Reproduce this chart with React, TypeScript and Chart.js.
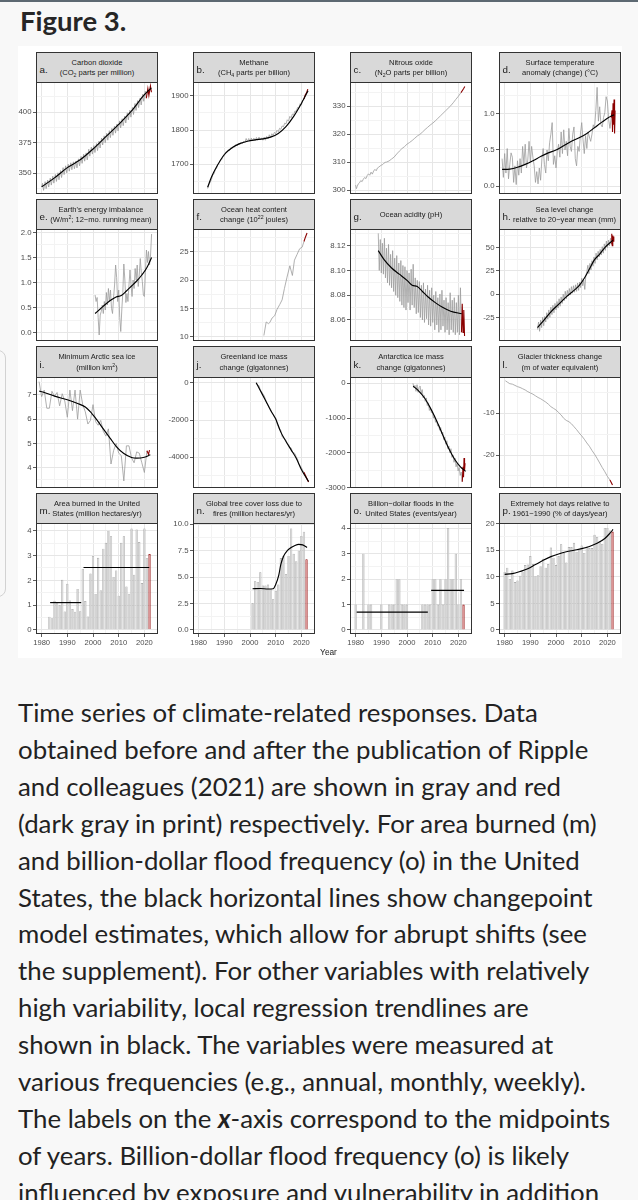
import React, { useEffect, useRef } from "react";
import { Chart, registerables } from "chart.js";

Chart.register(...registerables);

type Pt = [number, number];

// ---------------- shared x axis ----------------
const yearMin = 1977.8;
const yearMax = 2025.3;
const yearTicks = [1980, 1990, 2000, 2010, 2020];

// ---------------- a. Carbon dioxide ----------------
const co2Range = [332.8, 424.6];
const co2Ticks = [350, 375, 400];
const co2Before: Pt[] = [
  [1980.0, 338.6], [1980.35, 341.5], [1980.75, 335.8], [1981.35, 342.9], [1981.75, 337.2], [1982.35, 344.2], [1982.75, 338.5],
  [1983.35, 345.8], [1983.75, 340.1], [1984.35, 347.4], [1984.75, 341.7], [1985.35, 348.8], [1985.75, 343.1], [1986.35, 350.2],
  [1986.75, 344.5], [1987.35, 352.0], [1987.75, 346.3], [1988.35, 354.4], [1988.75, 348.7], [1989.35, 355.9], [1989.75, 350.2],
  [1990.35, 357.2], [1990.75, 351.5], [1991.35, 358.4], [1991.75, 352.7], [1992.35, 359.2], [1992.75, 353.5], [1993.35, 359.9],
  [1993.75, 354.2], [1994.35, 361.6], [1994.75, 355.9], [1995.35, 363.6], [1995.75, 357.9], [1996.35, 365.4], [1996.75, 359.7],
  [1997.35, 366.5], [1997.75, 360.8], [1998.35, 369.5], [1998.75, 363.8], [1999.35, 371.2], [1999.75, 365.5], [2000.35, 372.5],
  [2000.75, 366.8], [2001.35, 374.1], [2001.75, 368.4], [2002.35, 376.2], [2002.75, 370.5], [2003.35, 378.7], [2003.75, 373.0],
  [2004.35, 380.5], [2004.75, 374.8], [2005.35, 382.6], [2005.75, 376.9], [2006.35, 384.7], [2006.75, 379.0], [2007.35, 386.6],
  [2007.75, 380.9], [2008.35, 388.4], [2008.75, 382.7], [2009.35, 390.2], [2009.75, 384.5], [2010.35, 392.7], [2010.75, 387.0],
  [2011.35, 394.5], [2011.75, 388.8], [2012.35, 396.7], [2012.75, 391.0], [2013.35, 399.3], [2013.75, 393.6], [2014.35, 401.5],
  [2014.75, 395.8], [2015.35, 403.7], [2015.75, 398.0], [2016.35, 407.0], [2016.75, 401.3], [2017.35, 409.3], [2017.75, 403.6],
  [2018.35, 411.5], [2018.75, 405.8], [2019.35, 414.5], [2019.75, 408.8], [2020.35, 417.0], [2020.75, 411.3],
];
const co2After: Pt[] = [[2020.75, 411.3], [2021.35, 419.3], [2021.75, 413.6], [2022.35, 421.4], [2022.75, 416.2]];
const co2Trend: Pt[] = [
  [1980, 338.7], [1985, 346.0], [1990, 354.4], [1995, 360.8], [2000, 369.7], [2005, 379.8], [2010, 389.9], [2015, 400.9],
  [2020, 414.2], [2022.7, 419.8],
];

// ---------------- b. Methane ----------------
const ch4Range = [1612, 1941];
const ch4Ticks = [1700, 1800, 1900];
const ch4Before: Pt[] = [
  [1983.5, 1628], [1984.0, 1640], [1984.5, 1646], [1985.0, 1655], [1985.5, 1668], [1986.0, 1672], [1986.5, 1684], [1987.0, 1688],
  [1987.5, 1700], [1988.0, 1702], [1988.5, 1712], [1989.0, 1713], [1989.5, 1722], [1990.0, 1724], [1990.5, 1735], [1991.0, 1734],
  [1991.5, 1742], [1992.0, 1740], [1992.5, 1748], [1993.0, 1745], [1993.5, 1752], [1994.0, 1750], [1994.5, 1757], [1995.0, 1753],
  [1995.5, 1761], [1996.0, 1757], [1996.5, 1764], [1997.0, 1760], [1997.5, 1767], [1998.0, 1763], [1998.5, 1775], [1999.0, 1766],
  [1999.5, 1775], [2000.0, 1767], [2000.5, 1776], [2001.0, 1768], [2001.5, 1776], [2002.0, 1769], [2002.5, 1778], [2003.0, 1770],
  [2003.5, 1779], [2004.0, 1771], [2004.5, 1777], [2005.0, 1770], [2005.5, 1779], [2006.0, 1770], [2006.5, 1781], [2007.0, 1774],
  [2007.5, 1786], [2008.0, 1778], [2008.5, 1789], [2009.0, 1784], [2009.5, 1793], [2010.0, 1789], [2010.5, 1799], [2011.0, 1795],
  [2011.5, 1805], [2012.0, 1802], [2012.5, 1812], [2013.0, 1809], [2013.5, 1820], [2014.0, 1818], [2014.5, 1830], [2015.0, 1826],
  [2015.5, 1840], [2016.0, 1836], [2016.5, 1847], [2017.0, 1845], [2017.5, 1856], [2018.0, 1854], [2018.5, 1866], [2019.0, 1864],
  [2019.5, 1877], [2020.0, 1873], [2020.5, 1887], [2021.0, 1891],
];
const ch4After: Pt[] = [[2021.0, 1891], [2021.5, 1903], [2022.0, 1909], [2022.5, 1920]];
const ch4Trend: Pt[] = [
  [1983.5, 1632], [1985, 1662], [1987, 1692], [1990, 1728], [1993, 1748], [1996, 1760], [1999, 1767], [2002, 1771], [2005, 1774],
  [2008, 1779], [2011, 1790], [2014, 1810], [2017, 1840], [2020, 1878], [2022.6, 1915],
];

// ---------------- c. Nitrous oxide ----------------
const n2oRange = [298.6, 338.6];
const n2oTicks = [300, 310, 320, 330];
const n2oBefore: Pt[] = [
  [1980.0, 301.8], [1980.3, 300.5], [1980.6, 301.3], [1981.0, 302.2], [1981.5, 302.6], [1982.0, 303.4], [1982.5, 303.0],
  [1983.0, 303.9], [1983.5, 304.5], [1984.0, 304.1], [1984.5, 305.2], [1985.0, 305.8], [1985.5, 305.3], [1986.0, 306.4],
  [1986.5, 305.7], [1987.0, 306.8], [1987.5, 307.4], [1988.0, 306.9], [1988.5, 307.9], [1989.0, 308.2], [1989.5, 308.6],
  [1990.0, 308.9], [1990.5, 309.1], [1991.0, 309.6], [1991.5, 309.9], [1992.0, 310.0], [1993.0, 310.4], [1994.0, 311.1],
  [1995.0, 311.8], [1996.0, 312.9], [1997.0, 313.9], [1998.0, 314.8], [1999.0, 315.5], [2000.0, 316.4], [2001.0, 317.0],
  [2002.0, 317.7], [2003.0, 318.5], [2004.0, 319.3], [2005.0, 319.9], [2006.0, 320.7], [2007.0, 321.6], [2008.0, 322.4],
  [2009.0, 323.2], [2010.0, 323.9], [2011.0, 324.7], [2012.0, 325.6], [2013.0, 326.5], [2014.0, 327.4], [2015.0, 328.3],
  [2016.0, 329.2], [2017.0, 330.1], [2018.0, 331.2], [2019.0, 332.4], [2020.0, 333.5], [2021.0, 334.8],
];
const n2oAfter: Pt[] = [[2021.0, 334.8], [2021.5, 335.5], [2022.0, 336.2], [2022.5, 337.0]];

// ---------------- d. Surface temperature ----------------
const tempRange = [-0.111, 1.444];
const tempTicks = [0, 0.5, 1.0];
const tempBefore: Pt[] = [
  [1979.0, 0.38], [1979.5, 0.12], [1980.0, 0.45], [1980.5, 0.18], [1981.0, 0.52], [1981.5, 0.10], [1982.0, 0.30], [1982.5, 0.46],
  [1983.0, 0.40], [1983.5, 0.05], [1984.0, 0.28], [1984.5, 0.02], [1985.0, 0.35], [1985.5, 0.15], [1986.0, 0.38], [1986.5, 0.18],
  [1987.0, 0.55], [1987.5, 0.30], [1988.0, 0.58], [1988.5, 0.25], [1989.0, 0.36], [1989.5, 0.62], [1990.0, 0.33], [1990.5, 0.55],
  [1991.0, 0.40], [1991.5, 0.28], [1992.0, 0.05], [1992.5, 0.20], [1993.0, 0.03], [1993.5, 0.25], [1994.0, 0.08], [1994.5, 0.38],
  [1995.0, 0.52], [1995.5, 0.30], [1996.0, 0.18], [1996.5, 0.50], [1997.0, 0.35], [1997.5, 0.60], [1998.0, 0.72], [1998.5, 0.88],
  [1999.0, 0.30], [1999.5, 0.42], [2000.0, 0.25], [2000.5, 0.48], [2001.0, 0.58], [2001.5, 0.40], [2002.0, 0.75], [2002.5, 0.45],
  [2003.0, 0.78], [2003.5, 0.50], [2004.0, 0.62], [2004.5, 0.42], [2005.0, 0.80], [2005.5, 0.55], [2006.0, 0.48], [2006.5, 0.72],
  [2007.0, 0.82], [2007.5, 0.38], [2008.0, 0.28], [2008.5, 0.55], [2009.0, 0.48], [2009.5, 0.72], [2010.0, 0.88], [2010.5, 0.65],
  [2011.0, 0.45], [2011.5, 0.70], [2012.0, 0.52], [2012.5, 0.75], [2013.0, 0.68], [2013.5, 0.62], [2014.0, 0.72], [2014.5, 0.85],
  [2015.0, 0.80], [2015.5, 1.05], [2016.0, 1.37], [2016.5, 0.90], [2017.0, 1.10], [2017.5, 0.85], [2018.0, 0.82], [2018.5, 0.95],
  [2019.0, 1.02], [2019.5, 1.24], [2020.0, 1.18], [2020.5, 0.92], [2021.0, 0.80], [2021.5, 0.95],
];
const tempAfter: Pt[] = [
  [2021.5, 0.95], [2021.8, 1.05], [2022.0, 0.75], [2022.2, 1.15], [2022.4, 0.85], [2022.6, 1.20], [2022.8, 0.73], [2023.0, 1.05],
];
const tempTrend: Pt[] = [
  [1979, 0.23], [1982, 0.235], [1985, 0.26], [1988, 0.30], [1991, 0.35], [1994, 0.41], [1997, 0.46], [2000, 0.50], [2003, 0.56],
  [2006, 0.62], [2009, 0.67], [2012, 0.73], [2015, 0.81], [2018, 0.89], [2020, 0.94], [2022.6, 0.99],
];

// ---------------- e. Earth's energy imbalance ----------------
const eeiRange = [-0.17, 2.07];
const eeiTicks = [0, 0.5, 1.0, 1.5, 2.0];
const eeiBefore: Pt[] = [
  [2000.8, 0.75], [2001.2, 0.62], [2001.6, 0.70], [2002.0, 0.30], [2002.4, -0.05], [2002.8, 0.35], [2003.2, 0.42], [2003.6, 0.55],
  [2004.0, 0.38], [2004.4, 0.62], [2004.8, 0.45], [2005.2, 0.80], [2005.6, 0.55], [2006.0, 0.88], [2006.4, 0.62], [2006.8, 0.85],
  [2007.2, 0.48], [2007.6, 0.38], [2008.0, 0.70], [2008.4, 0.95], [2008.8, 1.35], [2009.2, 1.10], [2009.6, 0.62], [2010.0, 0.85],
  [2010.4, 0.30], [2010.8, 0.02], [2011.2, 0.45], [2011.6, 0.80], [2012.0, 1.37], [2012.4, 1.05], [2012.8, 0.60], [2013.2, 0.78],
  [2013.6, 0.62], [2014.0, 0.95], [2014.4, 1.25], [2014.8, 0.95], [2015.2, 0.72], [2015.6, 1.05], [2016.0, 0.88], [2016.4, 1.28],
  [2016.8, 1.05], [2017.2, 1.35], [2017.6, 0.92], [2018.0, 1.15], [2018.4, 1.48], [2018.8, 1.20], [2019.2, 1.02], [2019.6, 0.75],
  [2020.0, 0.72], [2020.4, 1.20], [2020.8, 1.65], [2021.2, 1.40], [2021.6, 1.62], [2022.0, 1.35], [2022.4, 1.55], [2022.8, 1.97],
];
const eeiTrend: Pt[] = [
  [2000.8, 0.38], [2003, 0.48], [2005, 0.57], [2007, 0.65], [2009, 0.71], [2011, 0.74], [2013, 0.83], [2015, 0.93], [2017, 1.03],
  [2019, 1.15], [2021, 1.30], [2022.8, 1.50],
];

// ---------------- f. Ocean heat content ----------------
const ohcRange = [9.24, 29.0];
const ohcTicks = [10, 15, 20, 25];
const ohcBefore: Pt[] = [
  [2005.4, 10.2], [2006.3, 12.6], [2007.2, 12.3], [2007.7, 12.5], [2008.6, 13.3], [2009.6, 13.7], [2010.5, 14.8], [2011.6, 15.7],
  [2012.5, 16.5], [2013.4, 18.5], [2014.4, 20.5], [2015.5, 22.5], [2016.5, 20.8], [2017.3, 23.5], [2018.3, 24.5], [2019.3, 25.5],
  [2020.3, 25.8], [2021.0, 26.8],
];
const ohcAfter: Pt[] = [[2021.0, 26.8], [2021.6, 27.6], [2022.2, 28.3]];

// ---------------- g. Ocean acidity ----------------
const phRange = [8.043, 8.1335];
const phTicks = [8.06, 8.08, 8.10, 8.12];
const phBefore: Pt[] = [
  [1988.8, 8.130], [1989.2, 8.100], [1989.6, 8.125], [1990.0, 8.098], [1990.4, 8.122], [1990.8, 8.097], [1991.2, 8.126],
  [1991.6, 8.094], [1992.0, 8.118], [1992.4, 8.090], [1992.8, 8.121], [1993.2, 8.088], [1993.6, 8.113], [1994.0, 8.086],
  [1994.4, 8.116], [1994.8, 8.083], [1995.2, 8.110], [1995.6, 8.080], [1996.0, 8.112], [1996.4, 8.078], [1996.8, 8.106],
  [1997.2, 8.075], [1997.6, 8.108], [1998.0, 8.072], [1998.4, 8.104], [1998.8, 8.070], [1999.2, 8.103], [1999.6, 8.068],
  [2000.0, 8.100], [2000.4, 8.074], [2000.8, 8.098], [2001.2, 8.068], [2001.6, 8.101], [2002.0, 8.072], [2002.4, 8.105],
  [2002.8, 8.070], [2003.2, 8.094], [2003.6, 8.065], [2004.0, 8.092], [2004.4, 8.066], [2004.8, 8.091], [2005.2, 8.062],
  [2005.6, 8.088], [2006.0, 8.060], [2006.4, 8.090], [2006.8, 8.058], [2007.2, 8.085], [2007.6, 8.061], [2008.0, 8.088],
  [2008.4, 8.056], [2008.8, 8.084], [2009.2, 8.055], [2009.6, 8.086], [2010.0, 8.058], [2010.4, 8.080], [2010.8, 8.052],
  [2011.2, 8.083], [2011.6, 8.056], [2012.0, 8.078], [2012.4, 8.050], [2012.8, 8.081], [2013.2, 8.052], [2013.6, 8.084],
  [2014.0, 8.055], [2014.4, 8.076], [2014.8, 8.050], [2015.2, 8.078], [2015.6, 8.052], [2016.0, 8.074], [2016.4, 8.048],
  [2016.8, 8.082], [2017.2, 8.052], [2017.6, 8.076], [2018.0, 8.050], [2018.4, 8.078], [2018.8, 8.048], [2019.2, 8.074],
  [2019.6, 8.050], [2020.0, 8.080], [2020.4, 8.048], [2020.8, 8.086], [2021.2, 8.050],
];
const phAfter: Pt[] = [[2021.2, 8.050], [2021.5, 8.073], [2021.8, 8.050], [2022.1, 8.068], [2022.4, 8.047]];
const phTrend: Pt[] = [
  [1988.8, 8.116], [1991, 8.109], [1994, 8.102], [1997, 8.097], [2000, 8.092], [2002, 8.088], [2004, 8.087], [2006, 8.083],
  [2008, 8.079], [2011, 8.074], [2014, 8.070], [2017, 8.067], [2021.3, 8.065],
];

// ---------------- h. Sea level ----------------
const seaRange = [-50.4, 70];
const seaTicks = [-25, 0, 25, 50];
const seaBefore: Pt[] = [
  [1992.8, -38], [1993.2, -30], [1993.6, -40], [1994.0, -28], [1994.4, -36], [1994.8, -25], [1995.2, -34], [1995.6, -24],
  [1996.0, -30], [1996.4, -20], [1996.8, -27], [1997.2, -17], [1997.6, -25], [1998.0, -14], [1998.4, -22], [1998.8, -12],
  [1999.2, -20], [1999.6, -10], [2000.0, -17], [2000.4, -8], [2000.8, -15], [2001.2, -5], [2001.6, -13], [2002.0, -3],
  [2002.4, -10], [2002.8, 0], [2003.2, -7], [2003.6, 3], [2004.0, -5], [2004.4, 4], [2004.8, -2], [2005.2, 6], [2005.6, -1],
  [2006.0, 8], [2006.4, 1], [2006.8, 9], [2007.2, 2], [2007.6, 10], [2008.0, 3], [2008.4, 12], [2008.8, 4], [2009.2, 13],
  [2009.6, 7], [2010.0, 17], [2010.4, 9], [2010.8, 15], [2011.2, 5], [2011.6, 20], [2012.0, 24], [2012.4, 31], [2012.8, 22],
  [2013.2, 33], [2013.6, 26], [2014.0, 36], [2014.4, 30], [2014.8, 40], [2015.2, 33], [2015.6, 44], [2016.0, 37], [2016.4, 46],
  [2016.8, 40], [2017.2, 48], [2017.6, 42], [2018.0, 51], [2018.4, 44], [2018.8, 54], [2019.2, 47], [2019.6, 57], [2020.0, 50],
  [2020.4, 58], [2020.8, 52], [2021.2, 60], [2021.5, 54],
];
const seaAfter: Pt[] = [[2021.5, 54], [2021.7, 65], [2021.9, 52], [2022.1, 63], [2022.3, 57], [2022.5, 62]];
const seaTrend: Pt[] = [
  [1992.8, -36], [1995, -29], [1998, -19], [2001, -11], [2004, -3], [2007, 4], [2009, 9], [2011, 17], [2013, 27], [2015, 37],
  [2017, 43], [2019, 50], [2022.2, 58],
];

// ---------------- i. Arctic sea ice ----------------
const iceRange = [3.16, 7.74];
const iceTicks = [4, 5, 6, 7];
const iceBefore: Pt[] = [
  [1979, 7.55], [1980, 6.93], [1981, 7.20], [1982, 6.45], [1983, 6.45], [1984, 7.15], [1985, 6.95], [1986, 7.10], [1987, 6.55],
  [1988, 7.05], [1989, 6.75], [1990, 6.08], [1991, 7.20], [1992, 6.35], [1993, 7.20], [1994, 6.00], [1995, 7.20], [1996, 6.60],
  [1997, 6.30], [1998, 5.80], [1999, 5.95], [2000, 6.60], [2001, 5.90], [2002, 5.75], [2003, 5.95], [2004, 5.50], [2005, 5.30],
  [2006, 5.60], [2007, 4.15], [2008, 4.70], [2009, 5.00], [2010, 4.60], [2011, 4.50], [2012, 3.45], [2013, 4.90], [2014, 4.90],
  [2015, 4.40], [2016, 4.20], [2017, 4.65], [2018, 4.60], [2019, 4.20], [2020, 3.80], [2021, 4.70],
];
const iceAfter: Pt[] = [[2021, 4.70], [2021.6, 4.55], [2022, 4.72]];
const iceTrend: Pt[] = [
  [1979, 7.16], [1981, 7.10], [1985, 6.95], [1990, 6.80], [1994, 6.65], [1997, 6.50], [1999, 6.30], [2001.5, 5.97], [2004, 5.60],
  [2006.7, 5.21], [2009, 4.88], [2012, 4.58], [2015, 4.42], [2017, 4.39], [2020, 4.43], [2022.3, 4.53],
];

// ---------------- j. Greenland ice mass ----------------
const grnRange = [-5645, 305];
const grnTicks = [-4000, -2000, 0];
const grnBefore: Pt[] = [
  [2002.4, 0], [2003, -150], [2003.5, -160], [2004, -390], [2004.5, -480], [2005, -600], [2005.5, -700], [2006, -880],
  [2006.5, -1060], [2007, -1200], [2007.5, -1330], [2008, -1430], [2008.5, -1620], [2009, -1700], [2009.5, -1850], [2010, -1880],
  [2010.5, -2200], [2011, -2350], [2011.5, -2500], [2012, -2550], [2012.5, -2900], [2013, -2950], [2013.5, -3000], [2014, -3080],
  [2014.5, -3250], [2015, -3300], [2015.5, -3480], [2016, -3500], [2016.5, -3700], [2017, -3750], [2017.5, -3800], [2018, -3980],
  [2018.5, -4100], [2019, -4350], [2019.5, -4450], [2020, -4550], [2020.5, -4700], [2021, -4800],
];
const grnAfter: Pt[] = [[2021, -4800], [2021.5, -4950], [2022, -5100], [2022.5, -5250], [2022.8, -5320]];
const grnTrend: Pt[] = [
  [2002.4, 0], [2004, -420], [2006, -940], [2008, -1480], [2010, -1950], [2012, -2650], [2014, -3150], [2016, -3600],
  [2018, -4050], [2020, -4650], [2022.8, -5300],
];

// ---------------- k. Antarctica ice mass ----------------
const antRange = [-3009, 181];
const antTicks = [-3000, -2000, -1000, 0];
const antBefore: Pt[] = [
  [2002.3, 0], [2002.7, -120], [2003.1, -60], [2003.5, -230], [2003.9, -40], [2004.3, -260], [2004.7, -120], [2005.1, -80],
  [2005.5, -300], [2005.9, -180], [2006.3, -420], [2006.7, -350], [2007.1, -520], [2007.5, -420], [2007.9, -640], [2008.3, -560],
  [2008.7, -780], [2009.1, -700], [2009.5, -850], [2009.9, -820], [2010.3, -1000], [2010.7, -920], [2011.1, -1120],
  [2011.5, -1050], [2011.9, -1230], [2012.3, -1180], [2012.7, -1350], [2013.1, -1270], [2013.5, -1460], [2013.9, -1400],
  [2014.3, -1620], [2014.7, -1540], [2015.1, -1750], [2015.5, -1650], [2015.9, -1880], [2016.3, -1800], [2016.7, -2000],
  [2017.1, -1880], [2017.5, -2130], [2017.9, -2060], [2018.3, -2270], [2018.7, -2150], [2019.1, -2400], [2019.5, -2300],
  [2019.9, -2520], [2020.3, -2420], [2020.7, -2650], [2021.1, -2550], [2021.5, -2830],
];
const antAfter: Pt[] = [[2021.5, -2830], [2021.8, -2400], [2022.0, -2700], [2022.2, -2150], [2022.4, -2500], [2022.6, -2300]];
const antTrend: Pt[] = [
  [2002.4, -80], [2004.5, -220], [2006.9, -430], [2008.8, -670], [2010.8, -960], [2012.8, -1290], [2014.7, -1620],
  [2016.7, -1940], [2018.6, -2190], [2020.8, -2400], [2022.8, -2530],
];

// ---------------- l. Glacier thickness ----------------
const glaRange = [-27.9, -1.29];
const glaTicks = [-20, -10];
const glaBefore: Pt[] = [
  [1980.3, -2.2], [1981, -2.5], [1982, -2.9], [1983, -3.0], [1984, -3.3], [1985, -3.6], [1986, -3.8], [1987, -4.1], [1988, -4.4],
  [1989, -4.8], [1990, -5.1], [1991, -5.4], [1992, -5.8], [1993, -6.2], [1994, -6.5], [1995, -6.9], [1996, -7.3], [1997, -7.8],
  [1998, -8.4], [1999, -8.8], [2000, -9.2], [2001, -9.8], [2002, -10.4], [2003, -11.2], [2004, -11.7], [2005, -12.0],
  [2006, -12.5], [2007, -13.2], [2008, -13.9], [2009, -14.7], [2010, -15.4], [2011, -16.2], [2012, -17.1], [2013, -17.9],
  [2014, -18.9], [2015, -19.8], [2016, -20.8], [2017, -21.9], [2018, -23.0], [2019, -24.0], [2020, -25.1], [2021, -26.0],
];
const glaAfter: Pt[] = [[2021, -26.0], [2022, -27.2]];

// ---------------- m. Area burned in the US ----------------
const burnRange = [-0.17, 4.32];
const burnTicks = [0, 1, 2, 3, 4];
const burnBars: Pt[] = [
  [1983, 0.53], [1984, 0.47], [1985, 1.17], [1986, 1.10], [1987, 0.99], [1988, 2.02], [1989, 0.74], [1990, 1.86], [1991, 1.19],
  [1992, 0.84], [1993, 0.73], [1994, 1.65], [1995, 0.75], [1996, 2.46], [1997, 1.16], [1998, 0.54], [1999, 2.28], [2000, 2.99],
  [2001, 1.45], [2002, 2.91], [2003, 1.60], [2004, 3.28], [2005, 3.52], [2006, 4.00], [2007, 3.78], [2008, 2.14], [2009, 2.40],
  [2010, 1.38], [2011, 3.52], [2012, 3.78], [2013, 1.75], [2014, 1.46], [2015, 4.10], [2016, 2.23], [2017, 4.06], [2018, 3.55],
  [2019, 1.89], [2020, 4.10], [2021, 2.89],
];
const burnBarsAfter: Pt[] = [[2022, 3.07]];
const burnSteps: Pt[][] = [
  [[1983.3, 1.1], [1995.4, 1.1]],
  [[1996.3, 2.52], [2021.9, 2.52]],
];

// ---------------- n. Tree cover loss due to fires ----------------
const treeRange = [-0.38, 10.12];
const treeTicks = [0, 2.5, 5, 7.5, 10];
const treeBars: Pt[] = [
  [2001, 2.52], [2002, 4.6], [2003, 4.55], [2004, 5.45], [2005, 4.2], [2006, 4.2], [2007, 4.3], [2008, 3.9], [2009, 2.9],
  [2010, 3.7], [2011, 4.3], [2012, 6.8], [2013, 7.0], [2014, 5.3], [2015, 7.0], [2016, 9.6], [2017, 7.2], [2018, 6.5],
  [2019, 7.5], [2020, 8.9], [2021, 9.3],
];
const treeBarsAfter: Pt[] = [[2022, 6.7]];
const treeTrend: Pt[] = [
  [2001, 3.9], [2004, 3.92], [2007, 3.88], [2009, 3.9], [2010, 4.3], [2011.2, 5.2], [2012, 6.2], [2013.1, 7.0], [2014.5, 7.5],
  [2016, 7.8], [2017.5, 8.0], [2019, 8.1], [2020.5, 8.05], [2022.2, 7.8],
];

// ---------------- o. Billion-dollar floods ----------------
const floodRange = [-0.16, 4.21];
const floodTicks = [0, 1, 2, 3, 4];
const floodBars: Pt[] = [
  [1980, 1], [1983, 3], [1985, 1], [1986, 1], [1990, 1], [1993, 1], [1994, 1], [1995, 1], [1996, 2], [1997, 2], [1998, 1],
  [1999, 1], [2000, 1], [2006, 1], [2007, 1], [2008, 1], [2009, 1], [2010, 2], [2011, 2], [2012, 1], [2013, 2], [2014, 1],
  [2015, 2], [2016, 4], [2017, 2], [2018, 2], [2019, 3], [2020, 1], [2021, 2],
];
const floodBarsAfter: Pt[] = [[2022, 1]];
const floodSteps: Pt[][] = [
  [[1980.4, 0.7], [2008.1, 0.7]],
  [[2009.4, 1.56], [2022.2, 1.56]],
];

// ---------------- p. Extremely hot days ----------------
const hotRange = [-0.76, 20.12];
const hotTicks = [0, 5, 10, 15, 20];
const hotBars: Pt[] = [
  [1980, 10.9], [1981, 11.7], [1982, 9.6], [1983, 11.2], [1984, 9.0], [1985, 9.3], [1986, 10.2], [1987, 11.0], [1988, 12.2],
  [1989, 12.3], [1990, 13.9], [1991, 12.4], [1992, 10.1], [1993, 10.3], [1994, 12.0], [1995, 13.4], [1996, 11.7], [1997, 12.4],
  [1998, 15.5], [1999, 13.6], [2000, 12.2], [2001, 13.9], [2002, 16.1], [2003, 14.5], [2004, 12.7], [2005, 15.6], [2006, 15.6],
  [2007, 16.4], [2008, 14.7], [2009, 15.1], [2010, 15.9], [2011, 14.5], [2012, 15.7], [2013, 15.4], [2014, 15.4], [2015, 17.9],
  [2016, 17.5], [2017, 16.7], [2018, 16.2], [2019, 19.2], [2020, 19.2], [2021, 18.7],
];
const hotBarsAfter: Pt[] = [[2022, 18.5]];
const hotTrend: Pt[] = [
  [1980, 10.45], [1983, 10.6], [1986, 11.0], [1989, 11.5], [1992, 12.3], [1995, 13.1], [1998, 13.8], [2001, 14.3], [2004, 14.7],
  [2007, 15.0], [2010, 15.3], [2013, 15.7], [2016, 16.3], [2019, 17.2], [2021, 18.2], [2022.2, 18.9],
];

// ---------------- caption ----------------
const captionLines = [
  "Time series of climate-related responses. Data",
  "obtained before and after the publication of Ripple",
  "and colleagues (2021) are shown in gray and red",
  "(dark gray in print) respectively. For area burned (m)",
  "and billion-dollar flood frequency (o) in the United",
  "States, the black horizontal lines show changepoint",
  "model estimates, which allow for abrupt shifts (see",
  "the supplement). For other variables with relatively",
  "high variability, local regression trendlines are",
  "shown in black. The variables were measured at",
  "various frequencies (e.g., annual, monthly, weekly).",
  "The labels on the |x|-axis correspond to the midpoints",
  "of years. Billion-dollar flood frequency (o) is likely",
  "influenced by exposure and vulnerability in addition",
];

// ---------------- styles ----------------
const AXIS_FONT = "'Liberation Sans', Arial, Helvetica, sans-serif";
const GRID_MAJOR = "#e6e6e6";
const GRID_MINOR = "#f3f3f3";
const GRAY_LINE = "#9c9c9c";
const RED_LINE = "#8b0000";
const subS: React.CSSProperties = { fontSize: "5.2px", verticalAlign: "-1.5px", lineHeight: 0 };
const supS: React.CSSProperties = { fontSize: "5.2px", verticalAlign: "3px", lineHeight: 0 };

interface PanelSpec {
  letter: string;
  title: React.ReactNode[];
  titleDx?: number;
  yRange: number[];
  yTicks: number[];
  decimals: number;
  before?: Pt[];
  after?: Pt[];
  trend?: Pt[];
  bars?: Pt[];
  barsAfter?: Pt[];
  steps?: Pt[][];
}

const panels: PanelSpec[] = [
  { letter: "a.", title: ["Carbon dioxide", <>(CO<sub style={subS}>2</sub> parts per million)</>], yRange: co2Range, yTicks: co2Ticks, decimals: 0, before: co2Before, after: co2After, trend: co2Trend },
  { letter: "b.", title: ["Methane", <>(CH<sub style={subS}>4</sub> parts per billion)</>], yRange: ch4Range, yTicks: ch4Ticks, decimals: 0, before: ch4Before, after: ch4After, trend: ch4Trend },
  { letter: "c.", title: ["Nitrous oxide", <>(N<sub style={subS}>2</sub>O parts per billion)</>], yRange: n2oRange, yTicks: n2oTicks, decimals: 0, before: n2oBefore, after: n2oAfter },
  { letter: "d.", title: ["Surface temperature", "anomaly (change) (°C)"], yRange: tempRange, yTicks: tempTicks, decimals: 1, before: tempBefore, after: tempAfter, trend: tempTrend },
  { letter: "e.", title: ["Earth's energy imbalance", <>(W/m<sup style={supS}>2</sup>; 12−mo. running mean)</>], titleDx: 4, yRange: eeiRange, yTicks: eeiTicks, decimals: 1, before: eeiBefore, trend: eeiTrend },
  { letter: "f.", title: ["Ocean heat content", <>change (10<sup style={supS}>22</sup> joules)</>], yRange: ohcRange, yTicks: ohcTicks, decimals: 0, before: ohcBefore, after: ohcAfter },
  { letter: "g.", title: ["Ocean acidity (pH)"], yRange: phRange, yTicks: phTicks, decimals: 2, before: phBefore, after: phAfter, trend: phTrend },
  { letter: "h.", title: ["Sea level change", "relative to 20−year mean (mm)"], titleDx: 4.5, yRange: seaRange, yTicks: seaTicks, decimals: 0, before: seaBefore, after: seaAfter, trend: seaTrend },
  { letter: "i.", title: ["Minimum Arctic sea ice", <>(million km<sup style={supS}>2</sup>)</>], yRange: iceRange, yTicks: iceTicks, decimals: 0, before: iceBefore, after: iceAfter, trend: iceTrend },
  { letter: "j.", title: ["Greenland ice mass", "change (gigatonnes)"], yRange: grnRange, yTicks: grnTicks, decimals: 0, before: grnBefore, after: grnAfter, trend: grnTrend },
  { letter: "k.", title: ["Antarctica ice mass", "change (gigatonnes)"], yRange: antRange, yTicks: antTicks, decimals: 0, before: antBefore, after: antAfter, trend: antTrend },
  { letter: "l.", title: ["Glacier thickness change", "(m of water equivalent)"], yRange: glaRange, yTicks: glaTicks, decimals: 0, before: glaBefore, after: glaAfter },
  { letter: "m.", title: ["Area burned in the United", "States (million hectares/yr)"], yRange: burnRange, yTicks: burnTicks, decimals: 0, bars: burnBars, barsAfter: burnBarsAfter, steps: burnSteps },
  { letter: "n.", title: ["Global tree cover loss due to", "fires (million hectares/yr)"], yRange: treeRange, yTicks: treeTicks, decimals: 1, bars: treeBars, barsAfter: treeBarsAfter, trend: treeTrend },
  { letter: "o.", title: ["Billion−dollar floods in the", "United States (events/year)"], yRange: floodRange, yTicks: floodTicks, decimals: 0, bars: floodBars, barsAfter: floodBarsAfter, steps: floodSteps },
  { letter: "p.", title: ["Extremely hot days relative to", "1961−1990 (% of days/year)"], yRange: hotRange, yTicks: hotTicks, decimals: 0, bars: hotBars, barsAfter: hotBarsAfter, trend: hotTrend },
];

// ---------------- layout ----------------
const colX = [36, 193, 350, 499];
const panelW = 122;
const rowsLayout = [
  { hTop: 52, pTop: 82, pBot: 194 },
  { hTop: 199, pTop: 229, pBot: 341 },
  { hTop: 346, pTop: 377, pBot: 488 },
  { hTop: 493, pTop: 523, pBot: 634 },
];
const axisW = 36;
const xAxisH = 15;
const padV = 7;

function minorTicks(major: number[], lo: number, hi: number): number[] {
  const step = major[1] - major[0];
  const out: number[] = [];
  for (let k = -1; k <= major.length; k++) {
    const v = major[0] + step * (k + 0.5);
    if (v > lo && v < hi) out.push(v);
  }
  return out;
}

const framePlugin = {
  id: "panelFrame",
  afterDatasetsDraw(chart: any) {
    const { ctx, chartArea } = chart;
    const { left, top, right, bottom } = chartArea;
    ctx.save();
    ctx.strokeStyle = "#333333";
    ctx.lineWidth = 1;
    ctx.strokeRect(left + 0.5, top + 0.5, right - left - 1, bottom - top - 1);
    ctx.restore();
  },
};

function buildConfig(p: PanelSpec, showX: boolean): any {
  const xy = (pts: Pt[]) => pts.map(([x, y]) => ({ x, y }));
  const datasets: any[] = [];
  if (p.trend) {
    datasets.push({ type: "line", data: xy(p.trend), borderColor: "#000", borderWidth: 1.15, pointRadius: 0, cubicInterpolationMode: "monotone", order: 0 });
  }
  if (p.steps) {
    p.steps.forEach((seg) => datasets.push({ type: "line", data: xy(seg), borderColor: "#000", borderWidth: 1.15, pointRadius: 0, tension: 0, order: 0 }));
  }
  if (p.after) {
    datasets.push({ type: "line", data: xy(p.after), borderColor: RED_LINE, borderWidth: 1.1, pointRadius: 0, tension: 0, order: 1 });
  }
  if (p.before) {
    datasets.push({ type: "line", data: xy(p.before), borderColor: GRAY_LINE, borderWidth: 0.8, pointRadius: 0, tension: 0, order: 2 });
  }
  if (p.barsAfter) {
    datasets.push({ type: "bar", data: xy(p.barsAfter), backgroundColor: "#f2a6a6", borderColor: "#8b0000", borderWidth: 0.9, grouped: false, barPercentage: 0.9, categoryPercentage: 1, order: 3 });
  }
  if (p.bars) {
    datasets.push({ type: "bar", data: xy(p.bars), backgroundColor: "#d3d3d3", borderColor: "#9d9d9d", borderWidth: 0.6, grouped: false, barPercentage: 0.9, categoryPercentage: 1, order: 4 });
  }

  const [yLo, yHi] = p.yRange;
  const yAll = [...p.yTicks, ...minorTicks(p.yTicks, yLo, yHi)].sort((a, b) => a - b);
  const isYMajor = (v: number) => p.yTicks.some((t) => Math.abs(t - v) < 1e-7);
  const xAll = [...yearTicks, ...minorTicks(yearTicks, yearMin, yearMax)].sort((a, b) => a - b);
  const isXMajor = (v: number) => yearTicks.some((t) => Math.abs(t - v) < 1e-7);
  const yFont = { family: AXIS_FONT, size: 7.8 };
  const xFont = { family: AXIS_FONT, size: 7.6 };

  return {
    type: "line",
    data: { datasets },
    options: {
      animation: false,
      responsive: false,
      devicePixelRatio: 1,
      events: [],
      layout: { padding: { left: 0, right: 2, top: padV, bottom: showX ? 0 : padV }, autoPadding: false },
      plugins: { legend: { display: false }, tooltip: { enabled: false }, title: { display: false } },
      scales: {
        x: {
          type: "linear",
          min: yearMin,
          max: yearMax,
          bounds: "data",
          offset: false,
          afterBuildTicks: (s: any) => { s.ticks = xAll.map((v) => ({ value: v })); },
          afterFit: (s: any) => { s.height = showX ? xAxisH : 0; s.paddingLeft = 0; s.paddingRight = 0; },
          ticks: {
            display: showX, autoSkip: false, maxRotation: 0, minRotation: 0, padding: 1, color: "#4d4d4d", font: xFont,
            callback: (v: number) => (isXMajor(v) ? String(Math.round(v)) : ""),
          },
          grid: {
            offset: false, drawTicks: showX, tickLength: 3, tickWidth: 0.8,
            tickColor: (c: any) => (c.tick && isXMajor(c.tick.value) ? "#333" : "rgba(0,0,0,0)"),
            color: (c: any) => (c.tick && isXMajor(c.tick.value) ? GRID_MAJOR : GRID_MINOR),
            lineWidth: 1,
          },
          border: { display: false },
        },
        y: {
          type: "linear",
          min: yLo,
          max: yHi,
          bounds: "data",
          afterBuildTicks: (s: any) => { s.ticks = yAll.map((v) => ({ value: v })); },
          afterFit: (s: any) => { s.width = axisW; s.paddingTop = 0; s.paddingBottom = 0; },
          ticks: {
            autoSkip: false, padding: 1.5, color: "#4d4d4d", font: yFont,
            callback: (v: number) => (isYMajor(v) ? v.toFixed(p.decimals) : ""),
          },
          grid: {
            drawTicks: true, tickLength: 3, tickWidth: 0.8,
            tickColor: (c: any) => (c.tick && isYMajor(c.tick.value) ? "#333" : "rgba(0,0,0,0)"),
            color: (c: any) => (c.tick && isYMajor(c.tick.value) ? GRID_MAJOR : GRID_MINOR),
            lineWidth: 1,
          },
          border: { display: false },
        },
      },
    },
    plugins: [framePlugin],
  };
}

function PanelChart({ spec, left, top, width, height, showX }: { spec: PanelSpec; left: number; top: number; width: number; height: number; showX: boolean }) {
  const ref = useRef<HTMLCanvasElement | null>(null);
  useEffect(() => {
    if (!ref.current) return;
    const chart = new Chart(ref.current, buildConfig(spec, showX));
    return () => chart.destroy();
  }, [spec, showX]);
  return <canvas ref={ref} width={width} height={height} style={{ position: "absolute", left, top, width, height }} />;
}

function Strip({ spec, left, top, height }: { spec: PanelSpec; left: number; top: number; height: number }) {
  return (
    <div
      style={{
        position: "absolute", left, top, width: panelW, height, boxSizing: "border-box",
        background: "#d9d9d9", border: "1px solid #333", fontFamily: AXIS_FONT, color: "#1a1a1a",
      }}
    >
      <div style={{ position: "absolute", left: 2.5, top: 0, height: height - 2, display: "flex", alignItems: "center", fontSize: "9.8px", paddingTop: 2 }}>
        {spec.letter}
      </div>
      <div
        style={{
          position: "absolute", left: spec.titleDx || 0, top: 0, width: panelW - 2, height: height - 1,
          display: "flex", flexDirection: "column", alignItems: "center", justifyContent: "center",
          fontSize: "7.55px", lineHeight: "10.3px", whiteSpace: "nowrap",
        }}
      >
        {spec.title.map((t, i) => (
          <div key={i}>{t}</div>
        ))}
      </div>
    </div>
  );
}

export default function App() {
  return (
    <div style={{ position: "absolute", left: 0, top: 0, width: 638, height: 1200, overflow: "hidden", background: "#f8f8f8" }}>
      <div style={{ position: "absolute", left: 0, top: 0, width: 638, height: 2, background: "#5d6972" }} />
      <div style={{ position: "absolute", left: 20, top: 7.2, fontFamily: "Lato, 'Open Sans', sans-serif", fontWeight: 700, fontSize: "27.5px", lineHeight: "28px", color: "#262626", whiteSpace: "nowrap" }}>
        Figure 3.
      </div>
      <div style={{ position: "absolute", left: -14, top: 350, width: 20, height: 247, boxSizing: "border-box", border: "1px solid #d2d2d2", borderRadius: 8 }} />
      <div style={{ position: "absolute", left: 18, top: 46, width: 604, height: 612, background: "#ffffff" }} />
      {panels.map((p, i) => {
        const col = i % 4;
        const row = Math.floor(i / 4);
        const L = rowsLayout[row];
        const showX = row === 3;
        const x0 = colX[col];
        return (
          <React.Fragment key={p.letter}>
            <Strip spec={p} left={x0} top={L.hTop} height={L.pTop - L.hTop + 1} />
            <PanelChart
              spec={p}
              showX={showX}
              left={x0 - axisW}
              top={L.pTop - padV}
              width={axisW + panelW + 2}
              height={L.pBot - L.pTop + padV + (showX ? xAxisH : padV)}
            />
          </React.Fragment>
        );
      })}
      <div style={{ position: "absolute", left: 328.5, top: 647, transform: "translateX(-50%)", fontFamily: AXIS_FONT, fontSize: "8.3px", color: "#1a1a1a", whiteSpace: "nowrap" }}>
        Year
      </div>
      <div style={{ position: "absolute", left: 18, top: 694, fontFamily: "Lato, 'Open Sans', sans-serif", fontSize: "25.8px", lineHeight: "36.9px", color: "#222", whiteSpace: "pre" }}>
        {captionLines.map((line, i) => {
          const parts = line.split("|");
          return (
            <div key={i}>
              {parts.length === 3 ? (
                <>
                  {parts[0]}
                  <b><i>{parts[1]}</i></b>
                  {parts[2]}
                </>
              ) : (
                line
              )}
            </div>
          );
        })}
      </div>
    </div>
  );
}
